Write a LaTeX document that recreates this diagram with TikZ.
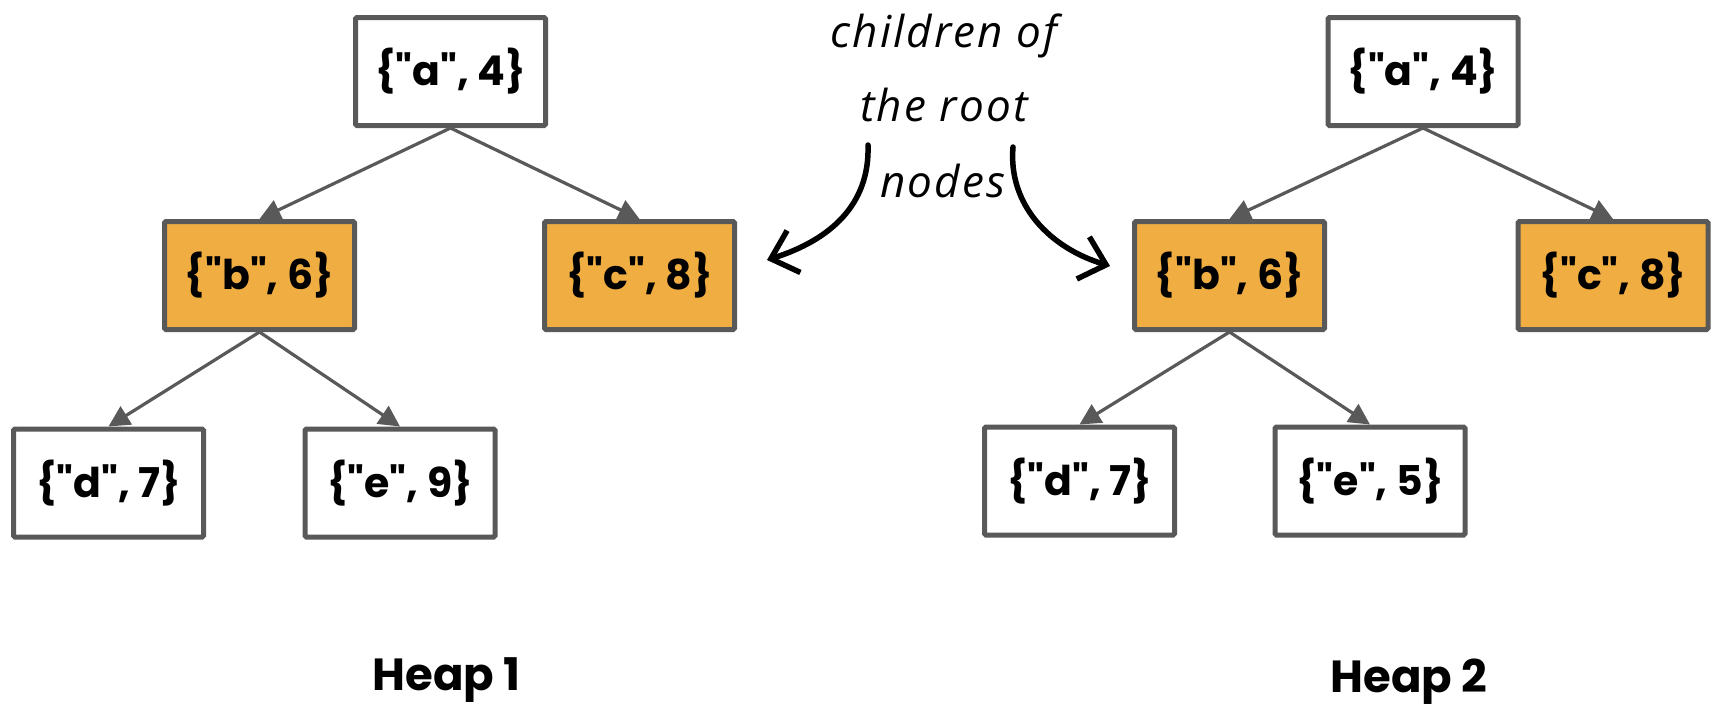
\documentclass[tikz,border=0pt]{standalone}
\usepackage{fontspec}
\setmainfont{Poppins}[Ligatures=TeXOff]
\newfontfamily\handfont{Open Sans}[LetterSpace=5]
\usetikzlibrary{arrows.meta}
\definecolor{boxgray}{RGB}{89,89,89}
\definecolor{heaporange}{RGB}{240,173,65}
\begin{document}
\begin{tikzpicture}[x=1pt,y=-1pt,
  keybox/.style={draw=boxgray, line width=5pt, fill=white, rounded corners=1.5pt,
    minimum width=190pt, minimum height=108pt, inner sep=0pt,
    font=\bfseries\fontsize{41}{46}\selectfont},
  childbox/.style={keybox, fill=heaporange},
  link/.style={draw=boxgray, line width=3.2pt, -{Triangle[length=21pt,width=21pt]}},
  note/.style={anchor=base, font=\handfont\itshape\fontsize{44}{50}\selectfont},
  pointer/.style={line width=5.5pt, line cap=round, -{Straight Barb[length=24pt,width=44pt,line width=5.5pt]}},
  heaplabel/.style={anchor=base, font=\bfseries\fontsize{45}{50}\selectfont}]
\useasboundingbox (0,0) rectangle (1716,705);

% Heap 1
\node[keybox]   (a1) at (450.5,71.5) {\{"a", 4\}};
\node[childbox] (b1) at (259.5,275.5) {\{"b", 6\}};
\node[childbox] (c1) at (639.5,275.5) {\{"c", 8\}};
\node[keybox]   (d1) at (108.5,483) {\{"d", 7\}};
\node[keybox]   (e1) at (400,483) {\{"e", 9\}};
\draw[link] (a1.south) -- (b1.north);
\draw[link] (a1.south) -- (c1.north);
\draw[link] (b1.south) -- (d1.north);
\draw[link] (b1.south) -- (e1.north);
\node[heaplabel] (h1) at (446.5,690) {Heap 1};

% Heap 2
\node[keybox]   (a2) at (1423,71.5) {\{"a", 4\}};
\node[childbox] (b2) at (1229.5,275.5) {\{"b", 6\}};
\node[childbox] (c2) at (1613,275.5) {\{"c", 8\}};
\node[keybox]   (d2) at (1079.5,481) {\{"d", 7\}};
\node[keybox]   (e2) at (1370,481) {\{"e", 5\}};
\draw[link] (a2.south) -- (b2.north);
\draw[link] (a2.south) -- (c2.north);
\draw[link] (b2.south) -- (d2.north);
\draw[link] (b2.south) -- (e2.north);
\node[heaplabel] (h2) at (1409,692) {Heap 2};

% annotation
\node[note] (n1) at (944,47) {children of};
\node[note] (n2) at (944,121) {the root};
\node[note] (n3) at (943,197) {nodes};
\coordinate (l0) at (868,145);
\coordinate (l1) at (767,260);
\coordinate (r0) at (1013,147);
\coordinate (r1) at (1110,266);
\draw[pointer] (l0) .. controls (870,205) and (830,240) .. (l1);
\draw[pointer] (r0) .. controls (1008,205) and (1050,248) .. (r1);
\end{tikzpicture}
\end{document}
